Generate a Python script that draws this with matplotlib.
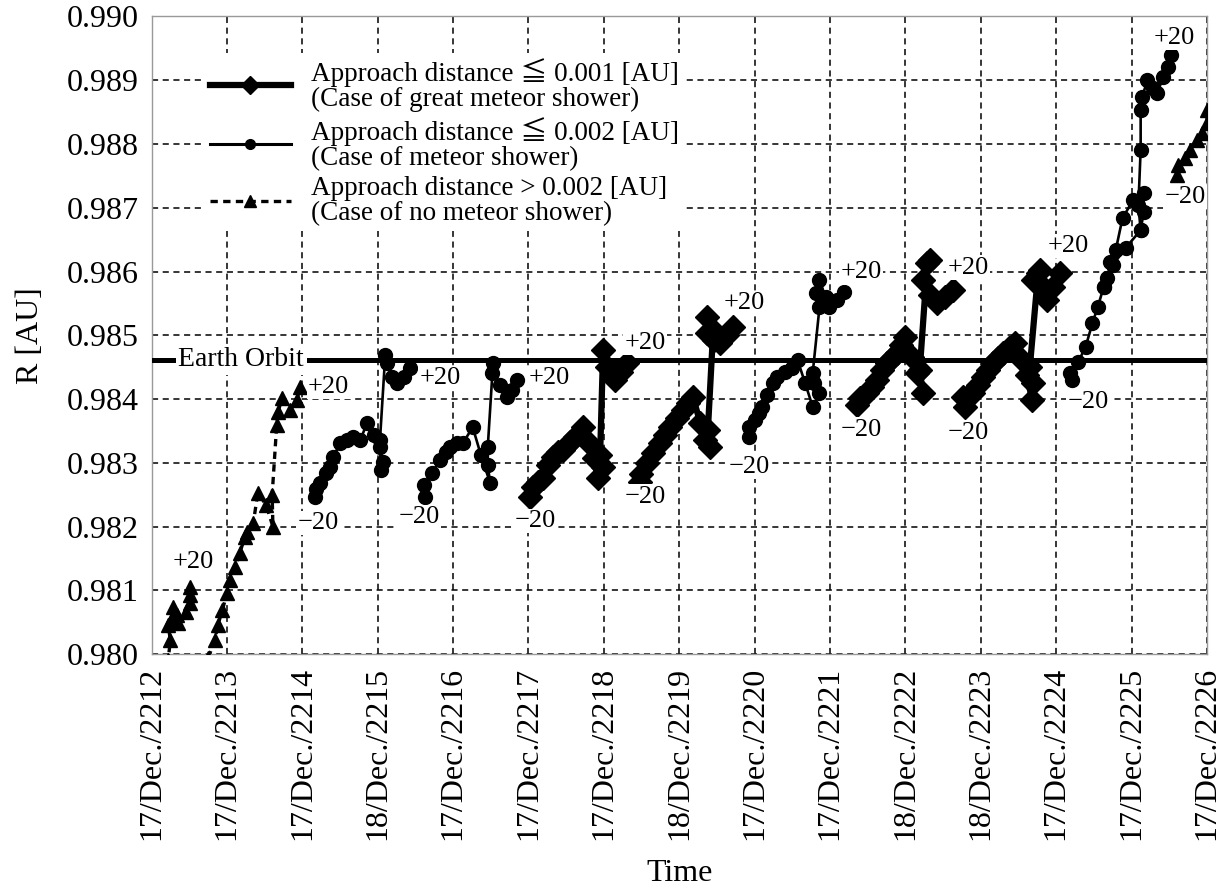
import matplotlib
matplotlib.use('Agg')
import matplotlib.pyplot as plt
from matplotlib.lines import Line2D

plt.rcParams['font.family'] = ['Liberation Serif', 'Noto Sans CJK JP']

# tick positions / labels
years = list(range(2212, 2227))
days = [17, 17, 17, 18, 17, 17, 17, 18, 17, 17, 18, 18, 17, 17, 17]
y_ticks = [0.980, 0.981, 0.982, 0.983, 0.984, 0.985, 0.986, 0.987, 0.988, 0.989, 0.990]

EARTH_R = 0.98462

# trail tracks (time [year], R [AU]), from -20 to +20
t2212_x = [2212.17, 2212.22, 2212.25, 2212.22, 2212.27, 2212.29, 2212.34, 2212.35, 2212.46, 2212.51, 2212.51, 2212.51]
t2212_y = [0.97944, 0.97991, 0.98022, 0.98046, 0.98057, 0.98074, 0.98062, 0.98049, 0.98066, 0.98080, 0.98093, 0.98106]

t2213_x = [2212.71, 2212.75, 2212.84, 2212.88, 2212.94, 2213.00, 2213.04, 2213.11, 2213.17, 2213.24, 2213.27,
           2213.35, 2213.41, 2213.52, 2213.61, 2213.60, 2213.66, 2213.68, 2213.73, 2213.84, 2213.93, 2213.97]
t2213_y = [0.97975, 0.97994, 0.98022, 0.98046, 0.98069, 0.98096, 0.98117, 0.98137, 0.98159, 0.98184, 0.98192,
           0.98206, 0.98253, 0.98234, 0.98200, 0.98250, 0.98359, 0.98380, 0.98402, 0.98383, 0.98399, 0.98419]

t2214_x = [2214.17, 2214.18, 2214.24, 2214.32, 2214.37, 2214.41, 2214.50, 2214.59, 2214.67, 2214.77, 2214.86,
           2214.95, 2215.03, 2215.07, 2215.04, 2215.03, 2215.10, 2215.12, 2215.19, 2215.26, 2215.35, 2215.43]
t2214_y = [0.98247, 0.98259, 0.98269, 0.98284, 0.98294, 0.98309, 0.98331, 0.98336, 0.98341, 0.98336, 0.98363,
           0.98344, 0.98325, 0.98301, 0.98289, 0.98336, 0.98469, 0.98457, 0.98435, 0.98425, 0.98435, 0.98449]

t2215_x = [2215.63, 2215.61, 2215.72, 2215.83, 2215.91, 2215.96, 2216.05, 2216.13, 2216.26, 2216.37,
           2216.49, 2216.46, 2216.46, 2216.53, 2216.52, 2216.62, 2216.72, 2216.78, 2216.85]
t2215_y = [0.98247, 0.98265, 0.98284, 0.98305, 0.98317, 0.98325, 0.98331, 0.98331, 0.98356, 0.98312,
           0.98269, 0.98297, 0.98325, 0.98457, 0.98441, 0.98422, 0.98403, 0.98414, 0.98430]

t2216_x = [2217.02, 2217.06, 2217.13, 2217.19, 2217.26, 2217.33, 2217.39, 2217.46, 2217.55, 2217.62, 2217.72,
           2217.79, 2217.87, 2217.92, 2217.99, 2217.95, 2217.99, 2218.04, 2218.11, 2218.15, 2218.23, 2218.31]
t2216_y = [0.98247, 0.98262, 0.98270, 0.98276, 0.98297, 0.98309, 0.98317, 0.98320, 0.98333, 0.98341, 0.98356,
           0.98333, 0.98308, 0.98276, 0.98294, 0.98312, 0.98477, 0.98450, 0.98438, 0.98430, 0.98443, 0.98457]

t2217_x = [2218.48, 2218.49, 2218.57, 2218.65, 2218.74, 2218.81, 2218.88, 2218.97, 2219.05, 2219.12, 2219.18,
           2219.28, 2219.34, 2219.41, 2219.38, 2219.45, 2219.37, 2219.37, 2219.46, 2219.54, 2219.63, 2219.71]
t2217_y = [0.98270, 0.98283, 0.98300, 0.98316, 0.98331, 0.98344, 0.98356, 0.98370, 0.98383, 0.98394, 0.98403,
           0.98363, 0.98336, 0.98325, 0.98352, 0.98508, 0.98529, 0.98504, 0.98493, 0.98488, 0.98501, 0.98513]

t2218_x = [2219.93, 2219.93, 2220.00, 2220.06, 2220.10, 2220.17, 2220.24, 2220.30, 2220.40, 2220.49, 2220.57, 2220.67,
           2220.77, 2220.86, 2220.79, 2220.77, 2220.86, 2220.82, 2220.86, 2220.94, 2220.99, 2221.09, 2221.19]
t2218_y = [0.98341, 0.98356, 0.98367, 0.98378, 0.98388, 0.98406, 0.98425, 0.98435, 0.98443, 0.98449, 0.98461, 0.98425,
           0.98388, 0.98410, 0.98425, 0.98441, 0.98544, 0.98567, 0.98587, 0.98560, 0.98544, 0.98555, 0.98568]

t2219_x = [2221.36, 2221.40, 2221.49, 2221.56, 2221.62, 2221.69, 2221.76, 2221.82, 2221.89, 2221.94, 2221.99,
           2222.09, 2222.15, 2222.23, 2222.19, 2222.29, 2222.33, 2222.23, 2222.33, 2222.42, 2222.52, 2222.63]
t2219_y = [0.98391, 0.98402, 0.98410, 0.98419, 0.98430, 0.98446, 0.98457, 0.98464, 0.98472, 0.98485, 0.98497,
           0.98466, 0.98441, 0.98410, 0.98446, 0.98613, 0.98618, 0.98587, 0.98563, 0.98551, 0.98560, 0.98571]

t2220_x = [2222.79, 2222.76, 2222.83, 2222.90, 2222.96, 2223.03, 2223.10, 2223.16, 2223.23, 2223.29, 2223.37, 2223.45,
           2223.55, 2223.61, 2223.68, 2223.69, 2223.65, 2223.76, 2223.69, 2223.78, 2223.82, 2223.88, 2223.96, 2224.05]
t2220_y = [0.98388, 0.98403, 0.98405, 0.98410, 0.98422, 0.98435, 0.98446, 0.98457, 0.98464, 0.98472, 0.98480, 0.98488,
           0.98461, 0.98438, 0.98399, 0.98425, 0.98450, 0.98598, 0.98587, 0.98602, 0.98576, 0.98555, 0.98576, 0.98598]

t2221_x = [2224.21, 2224.18, 2224.29, 2224.39, 2224.48, 2224.55, 2224.63, 2224.68, 2224.72, 2224.79, 2224.88, 2225.02,
           2225.16, 2225.16, 2225.12, 2225.09, 2225.12, 2225.12, 2225.14, 2225.21, 2225.28, 2225.34, 2225.42, 2225.48, 2225.52]
t2221_y = [0.98430, 0.98441, 0.98458, 0.98482, 0.98519, 0.98544, 0.98576, 0.98590, 0.98615, 0.98634, 0.98684, 0.98712,
           0.98723, 0.98693, 0.98665, 0.98704, 0.98791, 0.98853, 0.98874, 0.98900, 0.98888, 0.98880, 0.98905, 0.98921, 0.98939]
t2221b_x = [2224.63, 2224.75, 2224.92, 2225.12]
t2221b_y = [0.98576, 0.98610, 0.98637, 0.98665]

t2222_x = [2225.60, 2225.61, 2225.71, 2225.77, 2225.87, 2225.93, 2226.00, 2226.00, 2226.08]
t2222_y = [0.98751, 0.98767, 0.98778, 0.98791, 0.98806, 0.98817, 0.98833, 0.98853, 0.98848]

# "-20" / "+20" label positions
minus_x = [2214.21, 2215.55, 2217.09, 2218.55, 2219.93, 2221.41, 2222.83, 2224.42, 2225.71]
minus_y = [0.98206, 0.98215, 0.98209, 0.98247, 0.98294, 0.98352, 0.98347, 0.98396, 0.98717]
plus_x = [2212.55, 2214.35, 2215.83, 2217.27, 2218.55, 2219.86, 2221.41, 2222.83, 2224.16, 2225.57]
plus_y = [0.98145, 0.98419, 0.98433, 0.98433, 0.98488, 0.98551, 0.98599, 0.98606, 0.98640, 0.98966]

styles = {
    'great': dict(color='black', lw=4.5, marker='D', ms=12),
    'shower': dict(color='black', lw=1.9, marker='o', ms=10),
    'none': dict(color='black', lw=2.4, ls=(0, (2.2, 1.6)), marker='^', ms=10),
}

tracks = [
    (t2212_x, t2212_y, 'none'),
    (t2213_x, t2213_y, 'none'),
    (t2214_x, t2214_y, 'shower'),
    (t2215_x, t2215_y, 'shower'),
    (t2216_x, t2216_y, 'great'),
    (t2217_x, t2217_y, 'great'),
    (t2218_x, t2218_y, 'shower'),
    (t2219_x, t2219_y, 'great'),
    (t2220_x, t2220_y, 'great'),
    (t2221_x, t2221_y, 'shower'),
    (t2221b_x, t2221b_y, 'shower'),
    (t2222_x, t2222_y, 'none'),
]

fig = plt.figure(figsize=(12.25, 8.91), dpi=100)
ax = fig.add_axes([0.1237, 0.2657, 0.8616, 0.7158])

for x, y, kind in tracks:
    ax.plot(x, y, zorder=3, **styles[kind])

# earth orbit
ax.axhline(EARTH_R, color='black', lw=3.6, zorder=4)
ax.text(2213.19, EARTH_R, 'Earth Orbit', fontsize=20, ha='center', va='center', zorder=5,
        bbox=dict(facecolor='white', edgecolor='none', pad=2))

lbl_box = dict(facecolor='white', edgecolor='none', pad=1)
for x, y in zip(minus_x, minus_y):
    ax.text(x, y, '\u221220', fontsize=19, ha='center', va='center', zorder=5, bbox=lbl_box)
for x, y in zip(plus_x, plus_y):
    ax.text(x, y, '+20', fontsize=19, ha='center', va='center', zorder=5, bbox=lbl_box)

ax.set_xlim(2212, 2226)
ax.set_ylim(0.980, 0.990)
ax.set_xticks(years)
ax.set_xticklabels([f'{d}/Dec./{y}' for d, y in zip(days, years)], rotation=90, fontsize=23)
ax.set_yticks(y_ticks)
ax.set_yticklabels([f'{v:.3f}' for v in y_ticks], fontsize=23)
ax.tick_params(length=0, pad=9)
ax.grid(True, color='black', ls=(0, (4, 3)), lw=1.1)
ax.set_axisbelow(True)
for s in ax.spines.values():
    s.set_color('#999999')
    s.set_linewidth(1)

ax.set_xlabel('Time', fontsize=23, va='center')
ax.xaxis.set_label_coords(0.5, -0.344)
ax.set_ylabel('R [AU]', fontsize=23, labelpad=16)

handles = [
    Line2D([], [], color='black', lw=4.5, marker='D', ms=9),
    Line2D([], [], color='black', lw=2.2, marker='o', ms=7),
    Line2D([], [], color='black', lw=2.4, ls=(0, (2.2, 1.6)), marker='^', ms=9),
]
labels = [
    'Approach distance \u2266 0.001 [AU]\n(Case of great meteor shower)',
    'Approach distance \u2266 0.002 [AU]\n(Case of meteor shower)',
    'Approach distance > 0.002 [AU]\n(Case of no meteor shower)',
]
leg = ax.legend(handles, labels, loc='upper left', bbox_to_anchor=(0.05, 0.943), borderaxespad=0,
                fontsize=19.5, handlelength=3.0, handletextpad=0.75, labelspacing=0.2,
                borderpad=0.2, frameon=True, fancybox=False, framealpha=1)
leg.get_frame().set_edgecolor('none')
leg.set_zorder(6)
for t in leg.get_texts():
    t.set_linespacing(0.98)

fig.savefig('out.png', dpi=100)
